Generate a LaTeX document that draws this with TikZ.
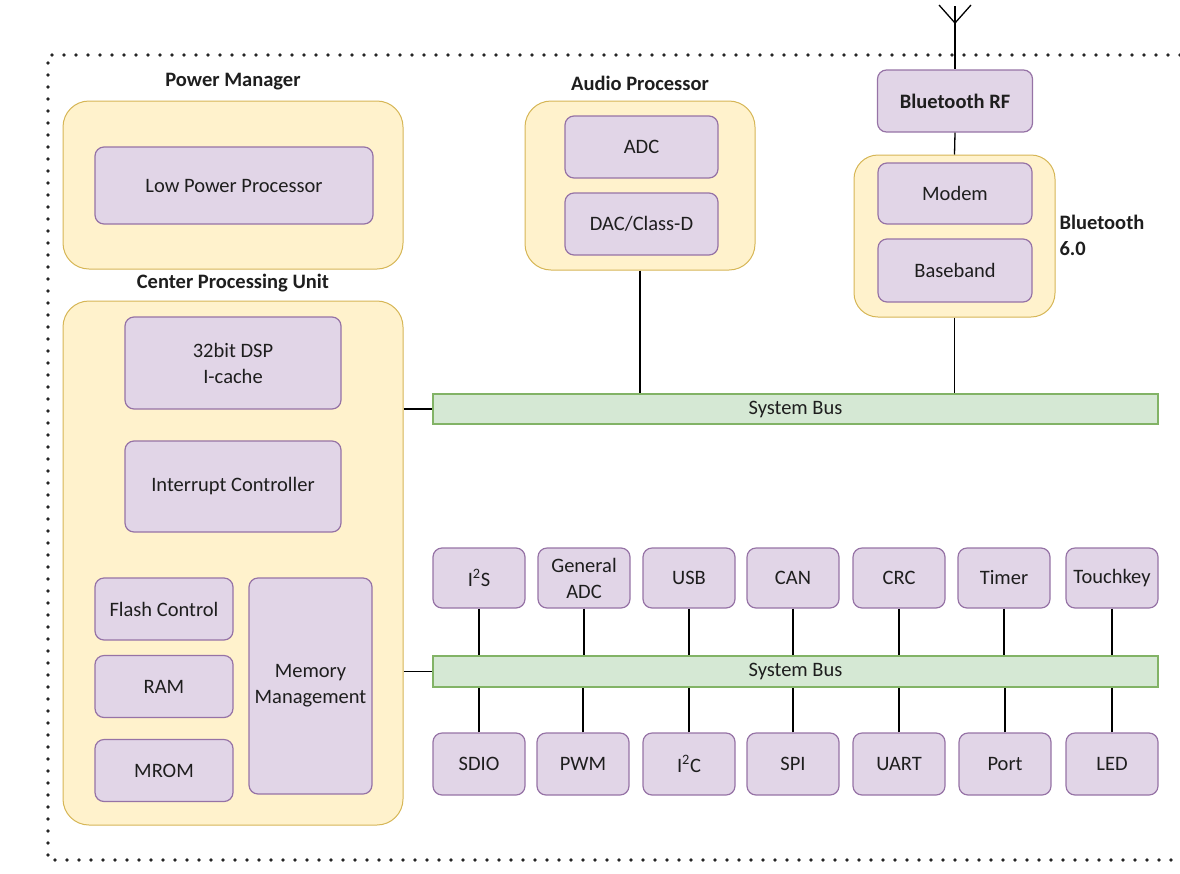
\documentclass[tikz,border=0pt]{standalone}
\usepackage{fontspec}
\setmainfont{Carlito}
\usepackage{tikz}
\usetikzlibrary{calc}
\definecolor{grpfill}{HTML}{FFF2CC}
\definecolor{grpline}{HTML}{D6B656}
\definecolor{unitfill}{HTML}{E1D5E7}
\definecolor{unitline}{HTML}{9673A6}
\definecolor{busfill}{HTML}{D5E8D4}
\definecolor{busline}{HTML}{82B366}
\definecolor{inkgray}{HTML}{1E1E1E}

\begin{document}
\begin{tikzpicture}[x=1pt,y=-1pt,font=\fontsize{20.5pt}{26pt}\selectfont,text=inkgray,
  group/.style={draw=grpline,fill=grpfill,line width=1pt,rounded corners=26pt,inner sep=0pt},
  unit/.style={draw=unitline,fill=unitfill,line width=1.2pt,rounded corners=9pt,align=center,inner sep=0pt},
  bus/.style={draw=busline,fill=busfill,line width=1.2pt,inner sep=0pt,minimum width=725pt},
  title/.style={font=\fontsize{20.5pt}{26pt}\selectfont\bfseries},
  wire/.style={draw=black,line width=1.3pt}]
\useasboundingbox (0,0) rectangle (1180,873);

% frame
\draw[black!85,line width=3.6pt,line cap=round,dash pattern=on 0pt off 12pt] (1180,55) -- (48,55) -- (48,860) -- (1180,860);

% power manager
\node[title] (PMt) at (233,82) {Power Manager};
\node[group,minimum width=340pt,minimum height=168pt] (PM) at (233,185) {};
\node[unit,minimum width=278pt,minimum height=77pt] (LPP) at (234,185.5) {Low Power Processor};

% center processing unit
\node[title] (CPUt) at (233,283) {Center Processing Unit};
\node[group,minimum width=340pt,minimum height=524pt] (CPU) at (233,563) {};
\node[unit,minimum width=216pt,minimum height=92pt] (DSP) at (233,363) {32bit DSP\\I-cache};
\node[unit,minimum width=216pt,minimum height=91pt] (IRQ) at (233,486.5) {Interrupt Controller};
\node[unit,minimum width=138pt,minimum height=62pt] (Flash) at (164,609) {Flash Control};
\node[unit,minimum width=138pt,minimum height=62pt] (RAM) at (164,686.5) {RAM};
\node[unit,minimum width=138pt,minimum height=62pt] (MROM) at (164,770.5) {MROM};
\node[unit,minimum width=123pt,minimum height=216pt] (MMU) at (310.5,686) {Memory\\Management};

% audio processor
\node[title] (APt) at (640,83) {Audio Processor};
\node[group,minimum width=230pt,minimum height=169pt] (AP) at (640,185.5) {};
\node[unit,minimum width=153pt,minimum height=62pt] (ADC) at (641.5,147) {ADC};
\node[unit,minimum width=153pt,minimum height=62pt] (DAC) at (641.5,224) {DAC/Class-D};

% bluetooth
\node[unit,title,minimum width=155pt,minimum height=62pt] (RF) at (955,101) {Bluetooth RF};
\node[group,minimum width=201pt,minimum height=162pt,rounded corners=24pt] (BT) at (954.5,236) {};
\node[unit,minimum width=154pt,minimum height=61pt] (Modem) at (955,193.5) {Modem};
\node[unit,minimum width=154pt,minimum height=63pt] (Base) at (955,270.5) {Baseband};
\node[title,anchor=west,align=left] (BTt) at (1056,235) {Bluetooth\\6.0};
\coordinate (AntTop) at (955,6);
\coordinate (AntJoin) at (955,23);

% buses
\node[bus,minimum height=30pt] (Bus1) at (795.5,409) {System Bus};
\node[bus,minimum height=31pt] (Bus2) at (795.5,671.5) {System Bus};

% peripherals
\node[unit,minimum width=92pt,minimum height=60pt] (I2S) at (479,578) {I\textsuperscript{2}S};
\node[unit,minimum width=92pt,minimum height=60pt] (GADC) at (584,578) {General\\ADC};
\node[unit,minimum width=92pt,minimum height=60pt] (USB) at (689,578) {USB};
\node[unit,minimum width=92pt,minimum height=60pt] (CAN) at (793,578) {CAN};
\node[unit,minimum width=92pt,minimum height=60pt] (CRC) at (899,578) {CRC};
\node[unit,minimum width=92pt,minimum height=60pt] (Timer) at (1004,578) {Timer};
\node[unit,minimum width=92pt,minimum height=60pt] (Touch) at (1112,578) {Touchkey};

\node[unit,minimum width=92pt,minimum height=62pt] (SDIO) at (479,764) {SDIO};
\node[unit,minimum width=92pt,minimum height=62pt] (PWM) at (583,764) {PWM};
\node[unit,minimum width=92pt,minimum height=62pt] (I2C) at (689,764) {I\textsuperscript{2}C};
\node[unit,minimum width=92pt,minimum height=62pt] (SPI) at (793,764) {SPI};
\node[unit,minimum width=92pt,minimum height=62pt] (UART) at (899,764) {UART};
\node[unit,minimum width=92pt,minimum height=62pt] (Port) at (1005,764) {Port};
\node[unit,minimum width=92pt,minimum height=62pt] (LED) at (1112,764) {LED};

% wires
\draw[wire] (AntTop) -- (RF.north);
\draw[wire] (AntJoin) -- ++(-16,-18);
\draw[wire] (AntJoin) -- ++(16,-18);
\draw[wire] (RF.south) -- (BT.north);
\draw[wire] (BT.south) -- (BT.south |- Bus1.north);
\draw[wire] (AP.south) -- (AP.south |- Bus1.north);
\draw[wire] (Bus1.west -| CPU.east) -- (Bus1.west);
\draw[wire] (Bus2.west -| CPU.east) -- (Bus2.west);

\draw[wire] (I2S.south) -- (I2S.south |- Bus2.north);
\draw[wire] (GADC.south) -- (GADC.south |- Bus2.north);
\draw[wire] (USB.south) -- (USB.south |- Bus2.north);
\draw[wire] (CAN.south) -- (CAN.south |- Bus2.north);
\draw[wire] (CRC.south) -- (CRC.south |- Bus2.north);
\draw[wire] (Timer.south) -- (Timer.south |- Bus2.north);
\draw[wire] (Touch.south) -- (Touch.south |- Bus2.north);

\draw[wire] (SDIO.north) -- (SDIO.north |- Bus2.south);
\draw[wire] (PWM.north) -- (PWM.north |- Bus2.south);
\draw[wire] (I2C.north) -- (I2C.north |- Bus2.south);
\draw[wire] (SPI.north) -- (SPI.north |- Bus2.south);
\draw[wire] (UART.north) -- (UART.north |- Bus2.south);
\draw[wire] (Port.north) -- (Port.north |- Bus2.south);
\draw[wire] (LED.north) -- (LED.north |- Bus2.south);
\end{tikzpicture}
\end{document}
